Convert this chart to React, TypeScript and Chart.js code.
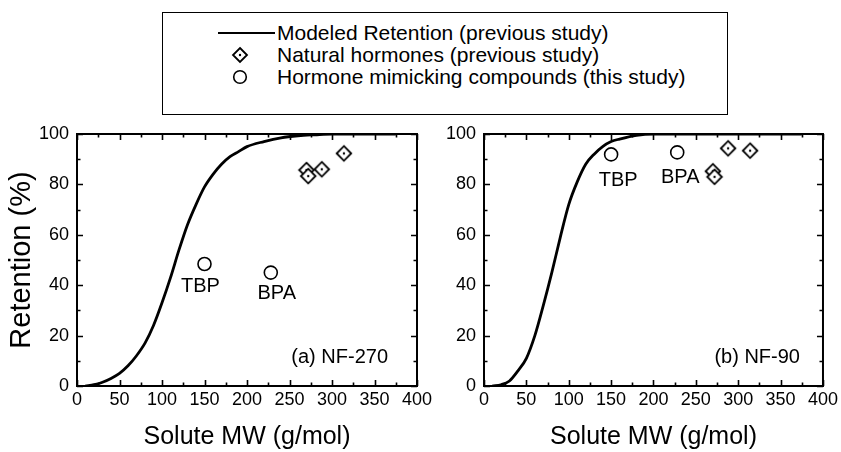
import React, { useEffect, useRef } from "react";
import { Chart, registerables } from "chart.js";
Chart.register(...registerables);

// ---- data ----
const curveA_MW = [10, 20, 30, 40, 50, 60, 70, 80, 90, 100, 110, 120, 130, 140, 150, 160, 170, 180, 190, 200, 220, 240, 260, 280, 300, 340, 375];
const curveA_R = [0, 0.5, 1.5, 3, 5, 8, 12, 17, 24, 33, 43, 54, 64, 72, 79, 84, 88, 91, 93, 95, 97, 98.5, 99.3, 99.7, 100, 100, 100];
const curveB_MW = [10, 20, 30, 40, 50, 60, 70, 80, 90, 100, 110, 120, 130, 140, 150, 160, 180, 200, 260, 320, 375];
const curveB_R = [0, 0.5, 2, 6, 11, 20, 32, 45, 59, 72, 81, 88, 92, 95, 97, 98, 99.5, 100, 100, 100, 100];

const naturalMW = [270, 272, 288, 314];
const naturalR_A = [85.7, 83.3, 86, 92.3];
const naturalR_B = [85.2, 83, 94.3, 93.4];

const mimicNames = ["TBP", "BPA"];
const mimicMW = [150, 228];
const mimicR_A = [48.4, 45];
const mimicR_B = [91.9, 92.7];

const panelLabels = ["(a) NF-270", "(b) NF-90"];
const legendLabels = [
  "Modeled Retention (previous study)",
  "Natural hormones (previous study)",
  "Hormone mimicking compounds (this study)",
];

const FONT = "'Liberation Sans', Arial, Helvetica, sans-serif";

function makeDiamond(): HTMLCanvasElement {
  const c = document.createElement("canvas");
  const s = 20;
  c.width = s;
  c.height = s;
  const g = c.getContext("2d")!;
  const m = s / 2;
  const r = 7.3;
  g.beginPath();
  g.moveTo(m, m - r);
  g.lineTo(m + r, m);
  g.lineTo(m, m + r);
  g.lineTo(m - r, m);
  g.closePath();
  g.fillStyle = "#fff";
  g.fill();
  g.lineWidth = 1.8;
  g.strokeStyle = "#000";
  g.stroke();
  g.beginPath();
  g.arc(m, m, 1.2, 0, Math.PI * 2);
  g.fillStyle = "#000";
  g.fill();
  return c;
}

const frameTicks = {
  id: "frameTicks",
  afterDraw(chart: any) {
    const { ctx, chartArea: a, scales } = chart;
    const xs = scales.x;
    const ys = scales.y;
    ctx.save();
    ctx.strokeStyle = "#000";
    ctx.lineWidth = 1.6;
    ctx.beginPath();
    for (let v = 0; v <= 400; v += 25) {
      const p = Math.round(xs.getPixelForValue(v)) + 0.5;
      const len = v % 50 === 0 ? 6 : 3.5;
      ctx.moveTo(p, a.bottom);
      ctx.lineTo(p, a.bottom - len);
      ctx.moveTo(p, a.top);
      ctx.lineTo(p, a.top + len);
    }
    for (let v = 0; v <= 100; v += 10) {
      const p = Math.round(ys.getPixelForValue(v)) + 0.5;
      const len = v % 20 === 0 ? 6 : 3.5;
      ctx.moveTo(a.left, p);
      ctx.lineTo(a.left + len, p);
      ctx.moveTo(a.right, p);
      ctx.lineTo(a.right - len, p);
    }
    ctx.stroke();
    ctx.lineWidth = 2;
    ctx.strokeRect(a.left, a.top, a.right - a.left, a.bottom - a.top);

    const o = chart.options.plugins.frameTicks;
    ctx.fillStyle = "#000";
    ctx.font = `20px ${FONT}`;
    ctx.textBaseline = "middle";
    ctx.textAlign = "center";
    mimicNames.forEach((name, i) => {
      const px = xs.getPixelForValue(mimicMW[i]) + o.offsets[i][0];
      const py = ys.getPixelForValue(o.mimicR[i]) + o.offsets[i][1];
      ctx.fillText(name, px, py);
    });
    ctx.textAlign = "right";
    ctx.fillText(o.panel, a.right - o.panelRight, a.bottom - 29);
    ctx.restore();
  },
};

function makeConfig(curveX: number[], curveY: number[], natY: number[], mimY: number[], left: boolean, panel: string, offsets: number[][], panelRight: number) {
  const diamond = makeDiamond();
  return {
    type: "scatter",
    data: {
      datasets: [
        {
          type: "line",
          data: curveX.map((x, i) => ({ x, y: curveY[i] })),
          borderColor: "#000",
          borderWidth: 2.8,
          pointRadius: 0,
          cubicInterpolationMode: "monotone",
          fill: false,
        },
        {
          data: natY.map((y, i) => ({ x: naturalMW[i], y })),
          pointStyle: diamond,
          pointRadius: 7,
        },
        {
          data: mimY.map((y, i) => ({ x: mimicMW[i], y })),
          pointStyle: "circle",
          pointRadius: 6.5,
          borderWidth: 1.6,
          borderColor: "#000",
          backgroundColor: "#fff",
        },
      ],
    },
    options: {
      animation: false,
      responsive: false,
      events: [],
      layout: { padding: { top: 134, right: left ? 33 : 18, left: 0, bottom: 0 } },
      plugins: {
        legend: { display: false },
        tooltip: { enabled: false },
        frameTicks: { mimicR: mimY, offsets, panel, panelRight },
      },
      scales: {
        x: {
          type: "linear",
          min: 0,
          max: 400,
          ticks: { stepSize: 50, color: "#000", font: { family: FONT, size: 18 }, padding: 3, maxRotation: 0 },
          grid: { display: false, drawTicks: false },
          border: { display: false },
          title: { display: true, text: "Solute MW (g/mol)", color: "#000", font: { family: FONT, size: 25, lineHeight: 1.2 }, padding: { top: 0, bottom: 0 } },
          afterFit: (s: any) => { s.height = 66; },
        },
        y: {
          type: "linear",
          min: 0,
          max: 100,
          ticks: { stepSize: 20, color: "#000", font: { family: FONT, size: 18 }, padding: 8 },
          grid: { display: false, drawTicks: false },
          border: { display: false },
          title: { display: left, text: "Retention (%)", color: "#000", font: { family: FONT, size: 29, lineHeight: 1.2 }, padding: { top: 5, bottom: 0 } },
          afterFit: (s: any) => { s.width = left ? 77 : 54; },
        },
      },
    },
    plugins: [frameTicks],
  };
}

function Panel(props: { left: boolean }) {
  const ref = useRef<HTMLCanvasElement>(null);
  useEffect(() => {
    const cfg = props.left
      ? makeConfig(curveA_MW, curveA_R, naturalR_A, mimicR_A, true, panelLabels[0], [[-4, 22], [6, 21]], 29)
      : makeConfig(curveB_MW, curveB_R, naturalR_B, mimicR_B, false, panelLabels[1], [[7, 26], [3, 25]], 23);
    const chart = new Chart(ref.current!, cfg as any);
    return () => chart.destroy();
  }, []);
  const w = props.left ? 450 : 411;
  return (
    <canvas
      ref={ref}
      width={w}
      height={452}
      style={{ position: "absolute", left: props.left ? 0 : 430, top: 0, width: w, height: 452 }}
    />
  );
}

function Legend() {
  const rowY = [33, 55, 77];
  const text: React.CSSProperties = { position: "absolute", left: 277, fontFamily: FONT, fontSize: 21, lineHeight: "22px", color: "#000", whiteSpace: "nowrap" };
  return (
    <>
      <div style={{ position: "absolute", left: 162, top: 12, width: 566, height: 103, border: "1.5px solid #000", boxSizing: "border-box" }} />
      <svg width={841} height={120} style={{ position: "absolute", left: 0, top: 0 }}>
        <line x1={218} x2={275} y1={33} y2={33} stroke="#000" strokeWidth={2.2} />
        <polygon points="240,48 247,55 240,62 233,55" fill="#fff" stroke="#000" strokeWidth={1.8} />
        <circle cx={240} cy={55} r={1.2} fill="#000" />
        <circle cx={240} cy={77} r={6.3} fill="#fff" stroke="#000" strokeWidth={1.6} />
      </svg>
      {legendLabels.map((t, i) => (
        <div key={i} style={{ ...text, top: rowY[i] - 11 }}>{t}</div>
      ))}
    </>
  );
}

export default function App() {
  return (
    <div style={{ position: "absolute", left: 0, top: 0, width: 841, height: 452, background: "#fff", overflow: "hidden" }}>
      <Legend />
      <Panel left={true} />
      <Panel left={false} />
    </div>
  );
}
